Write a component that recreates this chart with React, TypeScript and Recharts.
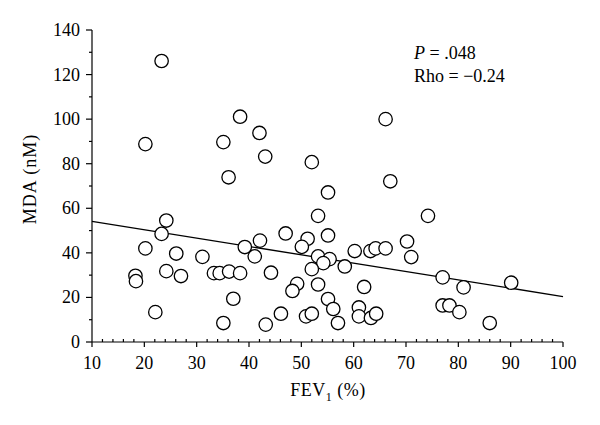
import React from 'react';
import { ScatterChart, Scatter, XAxis, YAxis, ReferenceLine } from 'recharts';

const fevValues: number[] = [
  23.3, 20.2, 38.3, 42.0, 35.1, 43.1, 36.1, 66.1, 52.0, 67.0,
  55.1, 53.2, 74.2, 24.2, 23.3, 20.2, 26.1, 31.1, 18.3, 18.4,
  24.2, 27.0, 33.3, 34.4, 36.2, 38.3, 39.2, 41.1, 42.1, 37.0,
  22.1, 35.1, 43.2, 44.2, 47.0, 51.2, 50.1, 55.1, 53.2, 55.4,
  54.2, 52.0, 58.3, 60.2, 63.2, 64.2, 66.1, 70.2, 71.0, 49.2,
  48.3, 53.2, 62.0, 55.1, 56.1, 61.0, 61.0, 63.3, 64.3, 50.9,
  52.0, 46.1, 57.0, 77.0, 81.0, 90.1, 77.0, 78.3, 80.2, 86.0,
];
const mdaValues: number[] = [
  126.1, 88.8, 101.1, 93.8, 89.7, 83.2, 73.9, 100.0, 80.7, 72.1,
  67.1, 56.6, 56.6, 54.5, 48.5, 42.0, 39.7, 38.2, 29.7, 27.3,
  31.8, 29.6, 30.9, 30.9, 31.6, 30.9, 42.6, 38.4, 45.5, 19.4,
  13.4, 8.5, 7.8, 31.1, 48.7, 46.3, 42.7, 47.8, 38.4, 37.2,
  35.4, 32.7, 33.9, 40.8, 40.8, 42.0, 42.0, 45.1, 38.1, 26.1,
  22.9, 25.8, 24.7, 19.3, 14.8, 15.5, 11.5, 10.8, 12.7, 11.5,
  12.7, 12.7, 8.5, 29.0, 24.5, 26.6, 16.4, 16.4, 13.4, 8.5,
];
const regressionX: number[] = [10, 100];
const regressionY: number[] = [54.1, 20.4];
const xTicks: number[] = [10, 12, 14, 16, 18, 20, 22, 24, 26, 28, 30, 32, 34, 36, 38, 40, 42, 44, 46, 48, 50, 52, 54, 56, 58, 60, 62, 64, 66, 68, 70, 72, 74, 76, 78, 80, 82, 84, 86, 88, 90, 92, 94, 96, 98, 100];
const yTicks: number[] = [0, 10, 20, 30, 40, 50, 60, 70, 80, 90, 100, 110, 120, 130, 140];

const points = fevValues.map((x, i) => ({ x, y: mdaValues[i] }));

const FONT = '"Liberation Serif", "DejaVu Serif", serif';

const XTick = (props: any) => {
  const { x, y, payload } = props;
  const v = payload.value as number;
  const major = v % 10 === 0;
  return (
    <g>
      {major ? (
        <line x1={x} y1={y} x2={x} y2={y + 5} stroke="#000" strokeWidth={1.2} />
      ) : (
        <line x1={x} y1={y} x2={x} y2={y - 3} stroke="#000" strokeWidth={1.2} />
      )}
      {major && (
        <text x={x} y={y + 27} textAnchor="middle" fontFamily={FONT} fontSize={18} fill="#000">
          {v}
        </text>
      )}
    </g>
  );
};

const YTick = (props: any) => {
  const { x, y, payload } = props;
  const v = payload.value as number;
  const major = v % 20 === 0;
  return (
    <g>
      <line x1={x} y1={y} x2={x - (major ? 6 : 3)} y2={y} stroke="#000" strokeWidth={1.2} />
      {major && (
        <text x={x - 12} y={y + 6} textAnchor="end" fontFamily={FONT} fontSize={18} fill="#000">
          {v}
        </text>
      )}
    </g>
  );
};

const Circle = (props: any) => {
  const { cx, cy } = props;
  return <circle cx={cx} cy={cy} r={6.7} fill="#fff" stroke="#000" strokeWidth={1.3} />;
};

export default function App() {
  return (
    <div style={{ position: 'absolute', left: 0, top: 0, width: 600, height: 425, background: '#fff' }}>
      <ScatterChart width={600} height={425} margin={{ top: 30, right: 37, left: 0, bottom: 0 }}>
        <XAxis
          type="number"
          dataKey="x"
          domain={[10, 100]}
          ticks={xTicks}
          interval={0}
          tickSize={0}
          tickMargin={0}
          tickLine={false}
          tick={<XTick />}
          height={83}
          axisLine={{ stroke: '#000', strokeWidth: 1.2 }}
          allowDataOverflow
        />
        <YAxis
          type="number"
          dataKey="y"
          domain={[0, 140]}
          ticks={yTicks}
          interval={0}
          tickSize={0}
          tickMargin={0}
          tickLine={false}
          tick={<YTick />}
          width={92}
          axisLine={{ stroke: '#000', strokeWidth: 1.2 }}
          allowDataOverflow
        />
        <ReferenceLine
          segment={[
            { x: regressionX[0], y: regressionY[0] },
            { x: regressionX[1], y: regressionY[1] },
          ]}
          stroke="#000"
          strokeWidth={1.3}
        />
        <Scatter data={points} shape={<Circle />} isAnimationActive={false} />
      </ScatterChart>
      <div style={{ position: 'absolute', left: 414, top: 42, fontFamily: FONT, fontSize: 18, lineHeight: '23px', color: '#000', whiteSpace: 'nowrap' }}>
        <div><i>P</i> = .048</div>
        <div>Rho = −0.24</div>
      </div>
      <div style={{ position: 'absolute', left: 0, top: 380, width: 656, textAlign: 'center', fontFamily: FONT, fontSize: 18, letterSpacing: 0.5, color: '#000', whiteSpace: 'nowrap' }}>
        FEV<sub style={{ fontSize: 12 }}>1</sub> (%)
      </div>
      <div style={{ position: 'absolute', left: 30, top: 179, width: 0, height: 0 }}>
        <div style={{ position: 'absolute', transform: 'translate(-50%, -50%) rotate(-90deg)', fontFamily: FONT, fontSize: 18, letterSpacing: 1, color: '#000', whiteSpace: 'nowrap' }}>
          MDA (nM)
        </div>
      </div>
    </div>
  );
}
